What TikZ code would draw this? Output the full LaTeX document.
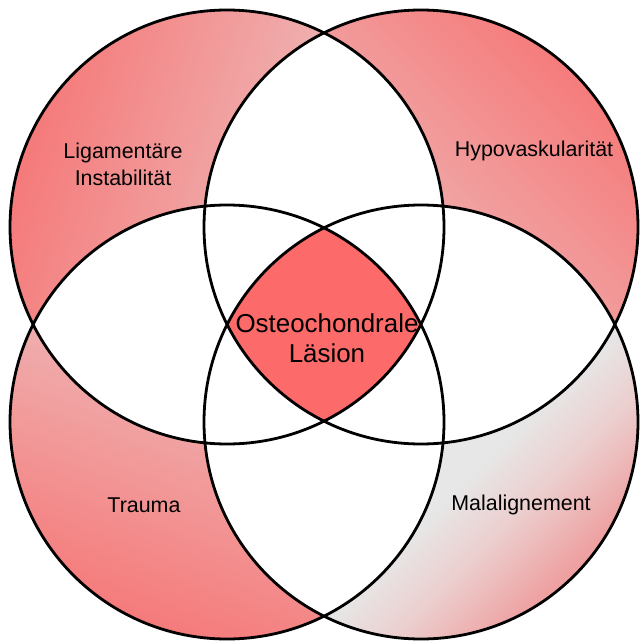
\documentclass[tikz,border=0pt]{standalone}
\usepackage{fontspec}
\setmainfont{Liberation Sans}
\definecolor{core}{RGB}{252,106,106}
\definecolor{redDark}{RGB}{246,118,118}
\definecolor{redLight}{RGB}{238,186,186}
\definecolor{brGray}{RGB}{231,231,231}
\definecolor{brMid}{RGB}{236,205,205}
\definecolor{brPink}{RGB}{238,162,162}
\definecolor{brDeep}{RGB}{239,150,150}
\pgfdeclareverticalshading{brshade}{100bp}{color(0bp)=(brDeep); color(25bp)=(brDeep); color(31bp)=(brPink); color(42bp)=(brMid); color(52bp)=(brGray); color(100bp)=(brGray)}
\begin{document}
\begin{tikzpicture}[x=1bp,y=-1bp,
  ring/.style={draw=black,line width=2.8bp},
  lbl/.style={font=\fontsize{21.5}{27}\selectfont,align=center,inner sep=0pt},
  corelbl/.style={font=\fontsize{26}{30}\selectfont,align=center,inner sep=0pt}]
\useasboundingbox (0,0) rectangle (640,644);
\def\R{217}
\coordinate (A) at (227,227);
\coordinate (B) at (421,227);
\coordinate (C) at (227,422);
\coordinate (D) at (421,422);
% gradient fills of the four outer crescents (shaded over each crescent's box)
\begin{scope}
  \clip (A) circle (\R);
  \shade[top color=redLight,bottom color=redDark,shading angle=-107] (8,8) rectangle (326,326);
\end{scope}
\begin{scope}
  \clip (B) circle (\R);
  \shade[top color=redDark,bottom color=redLight,shading angle=-45] (320,8) rectangle (640,326);
\end{scope}
\begin{scope}
  \clip (C) circle (\R);
  \shade[top color=redLight,bottom color=redDark,shading angle=-20] (8,322) rectangle (326,644);
\end{scope}
\begin{scope}
  \clip (D) circle (\R);
  \shade[shading=brshade,shading angle=45] (320,322) rectangle (640,644);
\end{scope}
% white overlaps
\foreach \p/\q in {A/B,A/C,A/D,B/C,B/D,C/D}{
  \begin{scope}
    \clip (\p) circle (\R);
    \fill[white] (\q) circle (\R);
  \end{scope}
}
% central region
\begin{scope}
  \clip (A) circle (\R);
  \clip (B) circle (\R);
  \clip (C) circle (\R);
  \fill[core] (D) circle (\R);
\end{scope}
% outlines
\foreach \p in {A,B,C,D}{\draw[ring] (\p) circle (\R);}
% labels
\node[lbl] (tl) at (123,164) {Ligamentäre\\Instabilität};
\node[lbl] (tr) at (534,151) {Hypovaskularität};
\node[lbl] (bl) at (144,505) {Trauma};
\node[lbl] (br) at (521,505) {Malalignement};
\node[corelbl] (core) at (327,338) {Osteochondrale\\Läsion};
\end{tikzpicture}
\end{document}
